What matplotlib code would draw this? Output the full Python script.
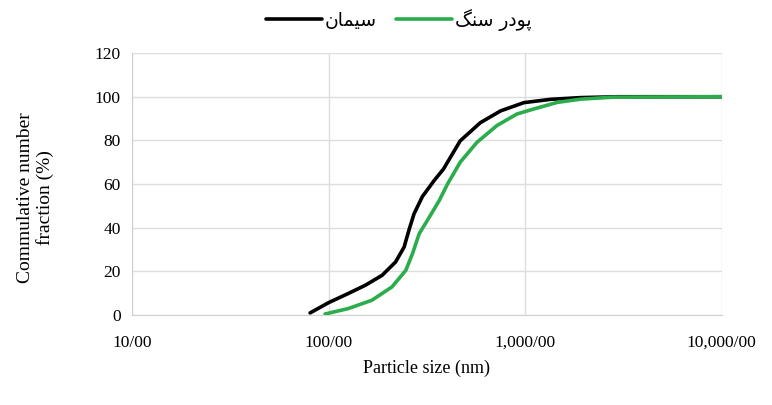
import numpy as np
import matplotlib.pyplot as plt
from matplotlib.ticker import FixedLocator, FixedFormatter

# cement (black) curve
cement_size = [80.5, 100, 126, 154, 187, 219, 242, 256, 272, 300, 344, 384, 467, 591, 749, 985, 1346, 1917, 3000, 10000]
cement_frac = [1.0, 5.7, 9.9, 13.7, 18.2, 24.3, 31.1, 38.8, 46.4, 54.3, 61.6, 66.9, 79.8, 88.1, 93.5, 97.3, 98.8, 99.6, 100, 100]

# stone powder (green) curve
stone_size = [96, 126, 166, 210, 247, 267, 289, 325, 365, 403, 467, 568, 718, 908, 1106, 1456, 1917, 2800, 10000]
stone_frac = [0.5, 3.0, 6.8, 12.9, 20.5, 28.1, 37.3, 44.8, 52.4, 60.1, 70.0, 79.1, 86.8, 92.1, 94.4, 97.4, 98.9, 99.8, 100]

x_ticks = [10, 100, 1000, 10000]
x_labels = ["10/00", "100/00", "1,000/00", "10,000/00"]
y_ticks = [0, 20, 40, 60, 80, 100, 120]

# Persian labels, already shaped and in visual order
label_cement = "\ufee5\ufe8e\ufee4\ufbff\ufeb3"          # سیمان
label_stone = "\ufb93\ufee8\ufeb3 \ufead\ufea9\ufeee\ufb58"  # پودر سنگ

plt.rcParams['font.family'] = ['Liberation Serif', 'DejaVu Sans']

fig = plt.figure(figsize=(7.72, 4.05), dpi=100)
ax = fig.add_axes([0.171, 0.222, 0.764, 0.647])

ax.plot(cement_size, cement_frac, color="black", lw=2.6, label=label_cement,
        solid_joinstyle="round", solid_capstyle="round")
ax.plot(stone_size, stone_frac, color="#2aad4a", lw=2.6, label=label_stone,
        solid_joinstyle="round", solid_capstyle="round")

ax.set_xscale("log")
ax.set_xlim(10, 10000)
ax.set_ylim(0, 120)
ax.xaxis.set_major_locator(FixedLocator(x_ticks))
ax.xaxis.set_major_formatter(FixedFormatter(x_labels))
ax.xaxis.set_minor_locator(FixedLocator([]))
ax.set_yticks(y_ticks)
ax.tick_params(length=0, labelsize=12.5)
ax.tick_params(axis="x", pad=14)
ax.tick_params(axis="y", pad=8)

ax.grid(True, color="#dddddd", lw=1)
ax.set_axisbelow(True)
for side in ["top", "right"]:
    ax.spines[side].set_visible(False)
ax.spines["left"].set_color("#d0d0d0")
ax.spines["bottom"].set_color("#d0d0d0")

ax.set_ylabel("Commulative number\nfraction (%)", fontsize=14, linespacing=1.15)
ax.yaxis.set_label_coords(-0.132, 0.447)
ax.set_xlabel("Particle size (nm)", fontsize=13)
ax.xaxis.set_label_coords(0.5, -0.172)

ax.legend(loc="center", bbox_to_anchor=(0.452, 1.126), ncol=2, frameon=False,
          prop={"family": "DejaVu Sans", "size": 13.5}, handlelength=3.0,
          handletextpad=0.15, columnspacing=1.0)

fig.savefig("out.png", dpi=100)
